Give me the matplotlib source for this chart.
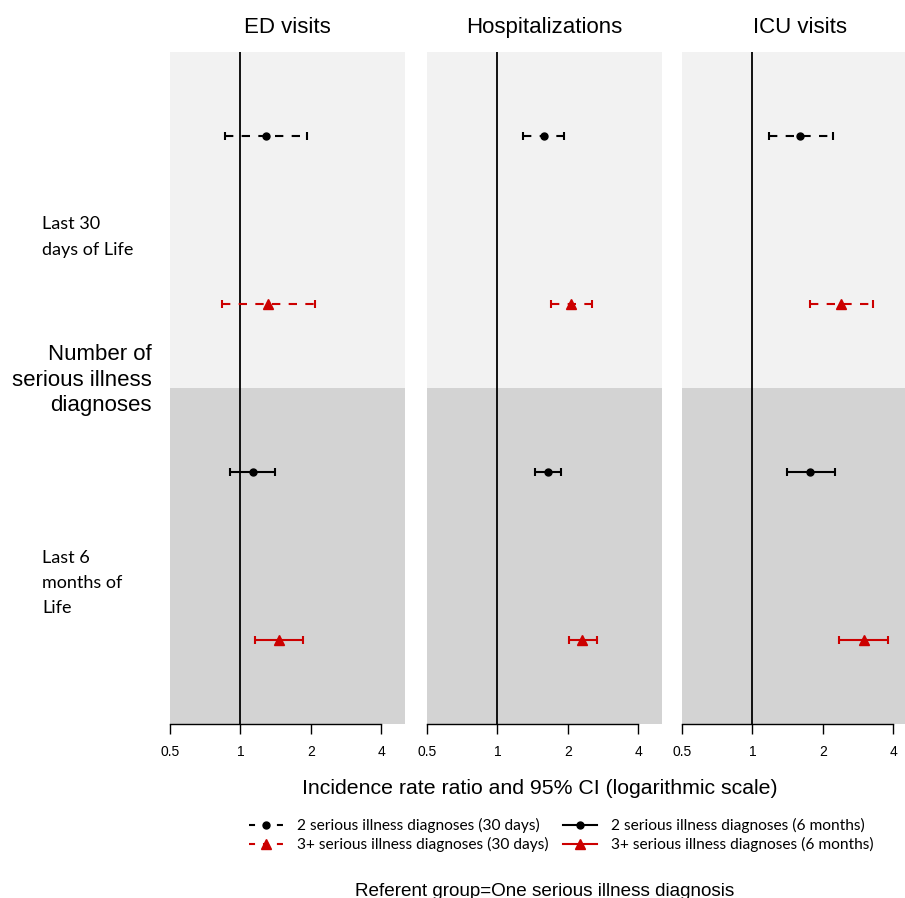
import matplotlib
matplotlib.use("Agg")
import matplotlib.pyplot as plt
from matplotlib.lines import Line2D
from matplotlib.ticker import FixedLocator, FixedFormatter, NullLocator

# ---------------- data ----------------
outcomes = ["ED visits", "Hospitalizations", "ICU visits"]
series = ["2 serious illness diagnoses (30 days)",
          "3+ serious illness diagnoses (30 days)",
          "2 serious illness diagnoses (6 months)",
          "3+ serious illness diagnoses (6 months)"]
row_pos = [4, 3, 2, 1]

ed_est = [1.28, 1.31, 1.13, 1.46]
ed_lo = [0.86, 0.83, 0.90, 1.15]
ed_hi = [1.92, 2.08, 1.41, 1.85]

hosp_est = [1.58, 2.07, 1.64, 2.30]
hosp_lo = [1.29, 1.70, 1.44, 2.01]
hosp_hi = [1.92, 2.53, 1.87, 2.65]

icu_est = [1.60, 2.38, 1.76, 2.98]
icu_lo = [1.18, 1.76, 1.40, 2.35]
icu_hi = [2.20, 3.26, 2.25, 3.78]

x_ticks = [0.5, 1, 2, 4]
x_ticklabels = ["0.5", "1", "2", "4"]

group_labels = ["Last 30\ndays of Life", "Last 6\nmonths of\nLife"]

# ---------------- style ----------------
colors = ["black", "#CC0000", "black", "#CC0000"]
markers = ["o", "^", "o", "^"]
msizes = [5, 7, 5, 7]
dashed = [True, True, False, False]
dash = (0, (4, 4))
leg_dash = (0, (2.9, 3.8))

est_all = [ed_est, hosp_est, icu_est]
lo_all = [ed_lo, hosp_lo, icu_lo]
hi_all = [ed_hi, hosp_hi, icu_hi]

W, H = 905, 898
fig = plt.figure(figsize=(W / 100, H / 100), dpi=100)

lefts = [170, 427, 682]
ax_w = 235
ax_bottom = (H - 724) / H
ax_h = (724 - 52) / H

for i, name in enumerate(outcomes):
    ax = fig.add_axes([lefts[i] / W, ax_bottom, ax_w / W, ax_h])
    ax.set_xscale("log", base=2)
    ax.set_xlim(0.5, 5.04)
    ax.set_ylim(0.5, 4.5)
    ax.set_facecolor("none")
    ax.axhspan(2.5, 4.5, color="#F2F2F2", zorder=0, lw=0)
    ax.axhspan(0.5, 2.5, color="#D3D3D3", zorder=0, lw=0)
    ax.axvline(1, color="black", lw=1.3, zorder=1)

    for k in range(4):
        e = est_all[i][k]
        lo = lo_all[i][k]
        hi = hi_all[i][k]
        res = ax.errorbar([e], [row_pos[k]], xerr=[[e - lo], [hi - e]],
                          fmt=markers[k], color=colors[k], ms=msizes[k],
                          ecolor=colors[k], elinewidth=1.5, capsize=3,
                          capthick=1.5, zorder=3)
        if dashed[k]:
            res[2][0].set_linestyle(dash)

    for s in ["top", "right", "left"]:
        ax.spines[s].set_visible(False)
    ax.spines["bottom"].set_bounds(0.5, 4)
    ax.spines["bottom"].set_linewidth(1.0)
    ax.xaxis.set_major_locator(FixedLocator(x_ticks))
    ax.xaxis.set_major_formatter(FixedFormatter(x_ticklabels))
    ax.xaxis.set_minor_locator(NullLocator())
    ax.tick_params(axis="x", length=7, width=1.0, pad=8, labelsize=10)
    for lab in ax.get_xticklabels():
        lab.set_family("Liberation Sans")
    ax.set_yticks([])
    ax.set_title(name, fontsize=16, family="Liberation Sans", pad=14)

# left annotations
fig.text(42 / W, 1 - 237 / H, group_labels[0], fontsize=13, family="Lato",
         ha="left", va="center", linespacing=1.7)
fig.text(42 / W, 1 - 583 / H, group_labels[1], fontsize=13, family="Lato",
         ha="left", va="center", linespacing=1.7)
fig.text(152 / W, 1 - 380 / H, "Number of\nserious illness\ndiagnoses",
         fontsize=16, family="Liberation Sans", ha="right", va="center",
         linespacing=1.3)

fig.text(540 / W, 1 - 789 / H,
         "Incidence rate ratio and 95% CI (logarithmic scale)",
         fontsize=15.3, family="Liberation Sans", ha="center", va="center")

handles = []
for k in range(4):
    handles.append(Line2D([0], [0], color=colors[k], marker=markers[k],
                          ms=msizes[k], lw=1.5,
                          linestyle=leg_dash if dashed[k] else "-"))
leg = fig.legend(handles, series,
                 ncol=2, loc="center", bbox_to_anchor=(561 / W, 1 - 835 / H),
                 frameon=False, prop={"family": "Lato", "size": 11.2},
                 handlelength=2.19, handletextpad=0.9, columnspacing=0.9,
                 labelspacing=0.25)

fig.text(545 / W, 1 - 891 / H, "Referent group=One serious illness diagnosis",
         fontsize=13.6, family="Liberation Sans", ha="center", va="center")

fig.savefig("out.png", dpi=100)
